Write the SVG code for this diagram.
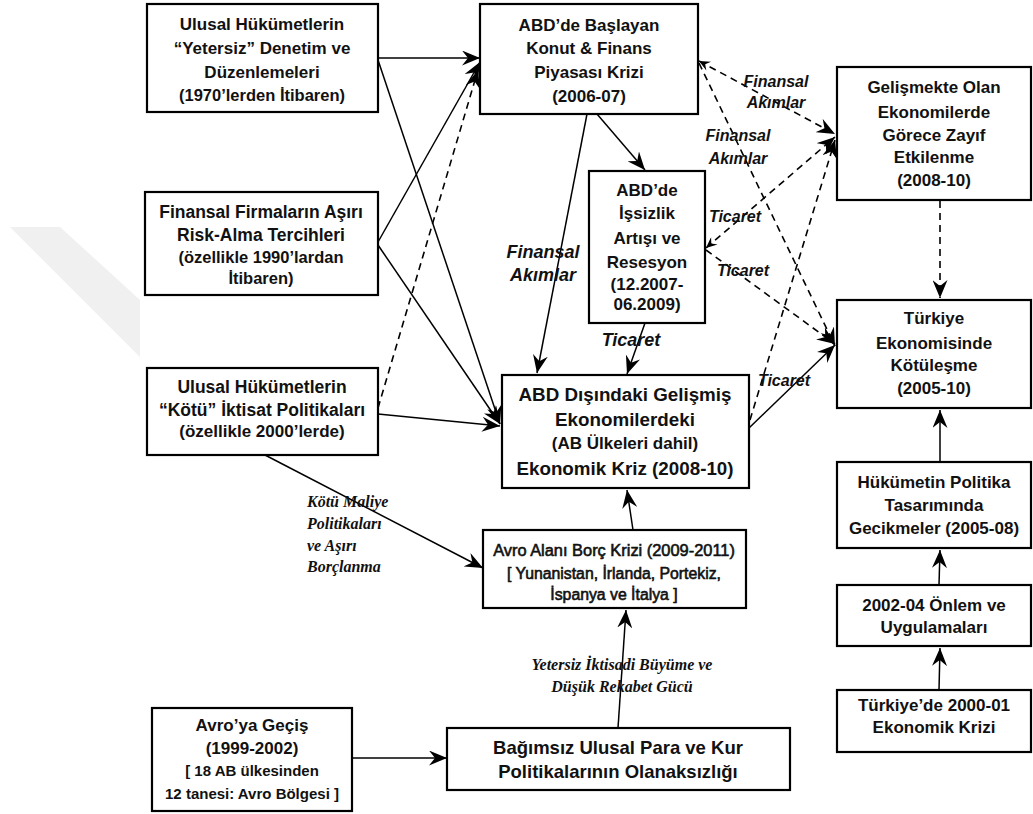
<svg xmlns="http://www.w3.org/2000/svg" width="1033" height="814" viewBox="0 0 1033 814">
<style>
.box{fill:#fff;stroke:#000;stroke-width:2.2}
.t{font-family:"Liberation Sans",Arial,sans-serif;font-weight:bold;font-size:17px;text-anchor:middle;fill:#111}
.s{font-size:16.5px}
.b{font-size:18.8px}
.r{font-weight:normal;stroke:#111;stroke-width:0.6}
.ln{stroke:#000;stroke-width:1.5;fill:none;marker-end:url(#ah)}
.dl{stroke:#000;stroke-width:1.6;fill:none;stroke-dasharray:7,5;marker-end:url(#ah)}
.lab{font-family:"Liberation Sans",Arial,sans-serif;font-weight:bold;font-style:italic;font-size:16px;text-anchor:middle;fill:#111}
.lab2{font-size:18px}
.ser{font-family:"Liberation Serif","Times New Roman",serif;font-weight:bold;font-style:italic;font-size:16px;fill:#111}
</style>
<defs>
<marker id="ah" markerUnits="userSpaceOnUse" markerWidth="19" markerHeight="15" refX="18" refY="7.5" orient="auto">
<path d="M0,0 L18,7.5 L0,15 L6,7.5 z" fill="#000"/>
</marker>
<marker id="as" markerUnits="userSpaceOnUse" markerWidth="12" markerHeight="10" refX="0" refY="5" orient="auto">
<path d="M11,0 L0,5 L11,10 L7,5 z" fill="#000"/>
</marker>
</defs>
<rect width="1033" height="814" fill="#fff"/>
<polygon points="10,227 60,227 140,300 140,357" fill="#f0f0f0"/>

<g id="connectors">
<line class="ln" x1="378" y1="58" x2="480" y2="58"/>
<line class="ln" x1="378" y1="60" x2="500" y2="424"/>
<line class="ln" x1="378" y1="242" x2="480" y2="62"/>
<line class="ln" x1="378" y1="245" x2="500" y2="424"/>
<line class="dl" x1="378" y1="408" x2="478" y2="70"/>
<line class="ln" x1="378" y1="414" x2="500" y2="426"/>
<line class="ln" x1="265" y1="455" x2="483" y2="568"/>
<line class="ln" x1="587" y1="114" x2="537" y2="373"/>
<line class="ln" x1="597" y1="114" x2="645" y2="170"/>
<line class="ln" x1="645" y1="323" x2="627" y2="374"/>
<line class="dl" x1="699" y1="61" x2="835" y2="134" style="marker-start:url(#as)"/>
<line class="dl" x1="699" y1="63" x2="835" y2="346"/>
<line class="dl" x1="706" y1="248" x2="835" y2="137" style="marker-start:url(#as)"/>
<line class="dl" x1="706" y1="250" x2="835" y2="344"/>
<line class="dl" x1="750" y1="420" x2="835" y2="140"/>
<line class="ln" x1="749" y1="428" x2="835" y2="345"/>
<line class="dl" x1="940" y1="201" x2="940" y2="298"/>
<line class="ln" x1="940" y1="462" x2="940" y2="410"/>
<line class="ln" x1="939" y1="585" x2="940" y2="550"/>
<line class="ln" x1="939" y1="690" x2="940" y2="648"/>
<line class="ln" x1="633" y1="530" x2="627" y2="490"/>
<line class="ln" x1="618" y1="728" x2="626" y2="610"/>
<line class="ln" x1="352" y1="758" x2="447" y2="758"/>
<text class="lab" x="776" y="87">Finansal</text>
<text class="lab" x="776" y="108">Akımlar</text>
<text class="lab" x="738" y="141">Finansal</text>
<text class="lab" x="738" y="164">Akımlar</text>
<text class="lab" x="735" y="222">Ticaret</text>
<text class="lab" x="743" y="276">Ticaret</text>
<text class="lab" x="784" y="386">Ticaret</text>
<text class="lab lab2" x="543" y="258">Finansal</text>
<text class="lab lab2" x="543" y="281">Akımlar</text>
<text class="lab lab2" x="631" y="346">Ticaret</text>
<text class="ser" x="307" y="507">Kötü Maliye</text>
<text class="ser" x="307" y="529">Politikaları</text>
<text class="ser" x="307" y="551">ve Aşırı</text>
<text class="ser" x="307" y="572">Borçlanma</text>
<text class="ser" x="622" y="670" text-anchor="middle">Yetersiz İktisadi Büyüme ve</text>
<text class="ser" x="622" y="692" text-anchor="middle">Düşük Rekabet Gücü</text>
</g>

<g id="n1"><rect class="box" x="147" y="4" width="231" height="108"/>
<text class="t" x="262" y="30">Ulusal Hükümetlerin</text>
<text class="t" x="262" y="54">“Yetersiz” Denetim ve</text>
<text class="t" x="262" y="78">Düzenlemeleri</text>
<text class="t s" x="262" y="101">(1970’lerden İtibaren)</text></g>

<g id="n2"><rect class="box" x="480" y="4" width="218" height="110"/>
<text class="t" x="589" y="31">ABD’de Başlayan</text>
<text class="t" x="589" y="54">Konut &amp; Finans</text>
<text class="t" x="589" y="78">Piyasası Krizi</text>
<text class="t" x="589" y="102">(2006-07)</text></g>

<g id="n3"><rect class="box" x="837" y="67" width="194" height="133"/>
<text class="t" x="934" y="93">Gelişmekte Olan</text>
<text class="t" x="934" y="118">Ekonomilerde</text>
<text class="t" x="934" y="141">Görece Zayıf</text>
<text class="t" x="934" y="163">Etkilenme</text>
<text class="t" x="934" y="186">(2008-10)</text></g>

<g id="n4"><rect class="box" x="145" y="192" width="233" height="103"/>
<text class="t" x="261" y="218" style="font-size:17.5px">Finansal Firmaların Aşırı</text>
<text class="t" x="261" y="241" style="font-size:17.5px">Risk-Alma Tercihleri</text>
<text class="t s" x="261" y="263">(özellikle 1990’lardan</text>
<text class="t s" x="261" y="284">İtibaren)</text></g>

<g id="n5"><rect class="box" x="589" y="171" width="116" height="152"/>
<text class="t" x="647" y="196">ABD’de</text>
<text class="t" x="647" y="219">İşsizlik</text>
<text class="t" x="647" y="244">Artışı ve</text>
<text class="t" x="647" y="268">Resesyon</text>
<text class="t" x="647" y="290">(12.2007-</text>
<text class="t" x="647" y="310">06.2009)</text></g>

<g id="n6"><rect class="box" x="837" y="300" width="194" height="108"/>
<text class="t" x="934" y="324">Türkiye</text>
<text class="t" x="934" y="349">Ekonomisinde</text>
<text class="t" x="934" y="371">Kötüleşme</text>
<text class="t" x="934" y="394">(2005-10)</text></g>

<g id="n7"><rect class="box" x="147" y="368" width="231" height="87"/>
<text class="t" x="262" y="393" style="font-size:17.5px">Ulusal Hükümetlerin</text>
<text class="t" x="262" y="416" style="font-size:17.5px">“Kötü” İktisat Politikaları</text>
<text class="t" x="262" y="437">(özellikle 2000’lerde)</text></g>

<g id="n8"><rect class="box" x="502" y="375" width="247" height="113"/>
<text class="t b" x="625" y="401">ABD Dışındaki Gelişmiş</text>
<text class="t b" x="625" y="426">Ekonomilerdeki</text>
<text class="t" x="625" y="449">(AB Ülkeleri dahil)</text>
<text class="t b" x="625" y="475">Ekonomik Kriz (2008-10)</text></g>

<g id="n9"><rect class="box" x="837" y="462" width="194" height="86"/>
<text class="t" x="934" y="488">Hükümetin Politika</text>
<text class="t" x="934" y="511">Tasarımında</text>
<text class="t" x="934" y="534">Gecikmeler (2005-08)</text></g>

<g id="n10"><rect class="box" x="483" y="530" width="263" height="78"/>
<text class="t r" x="614" y="556" style="font-size:16.4px">Avro Alanı Borç Krizi (2009-2011)</text>
<text class="t r" x="614" y="579" style="font-size:15.8px">[ Yunanistan, İrlanda, Portekiz,</text>
<text class="t r" x="614" y="600" style="font-size:15.8px">İspanya ve İtalya ]</text></g>

<g id="n11"><rect class="box" x="837" y="585" width="194" height="61"/>
<text class="t" x="934" y="611">2002-04 Önlem ve</text>
<text class="t" x="934" y="633">Uygulamaları</text></g>

<g id="n12"><rect class="box" x="837" y="690" width="194" height="62"/>
<text class="t" x="934" y="711">Türkiye’de 2000-01</text>
<text class="t" x="934" y="733">Ekonomik Krizi</text></g>

<g id="n13"><rect class="box" x="152" y="708" width="200" height="103"/>
<text class="t" x="252" y="731">Avro’ya Geçiş</text>
<text class="t" x="252" y="754">(1999-2002)</text>
<text class="t" x="252" y="776" style="font-size:15px">[ 18 AB ülkesinden</text>
<text class="t" x="252" y="799" style="font-size:15px">12 tanesi: Avro Bölgesi ]</text></g>

<g id="n14"><rect class="box" x="447" y="728" width="343" height="62"/>
<text class="t" x="618" y="754" style="font-size:18.5px">Bağımsız Ulusal Para ve Kur</text>
<text class="t" x="618" y="778" style="font-size:18.5px">Politikalarının Olanaksızlığı</text></g>
</svg>
